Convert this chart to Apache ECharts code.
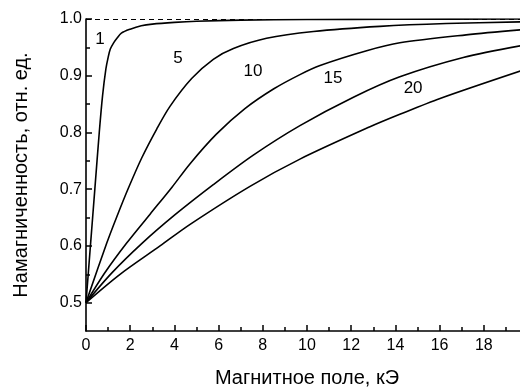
<!DOCTYPE html>
<html lang="ru">
<head>
<meta charset="UTF-8">
<title>Намагниченность</title>
<script src="https://cdn.jsdelivr.net/npm/echarts@6/dist/echarts.min.js"></script>
<style>
  html, body { margin: 0; padding: 0; background: #fff; }
  #main { width: 520px; height: 391px; }
</style>
</head>
<body>
<div id="main"></div>
<script type="text/javascript">
var curveNames = ['1', '5', '10', '15', '20'];

var h1 = [0, 0.2, 0.4, 0.6, 0.75, 0.9, 1.0, 1.1, 1.25, 1.4, 1.6, 2.0, 2.5, 3.0, 4, 5, 7, 10, 14, 19.7];
var m1 = [0.5, 0.6, 0.7, 0.8, 0.865, 0.912, 0.932, 0.947, 0.958, 0.966, 0.975, 0.982, 0.988, 0.991, 0.994, 0.996, 0.998, 0.999, 0.9995, 1.0];

var h5 = [0, 0.94, 1.39, 1.92, 2.52, 3.2, 3.8, 4.78, 5.76, 6.67, 8.17, 10.29, 13.3, 16.3, 19.7];
var m5 = [0.5, 0.605, 0.651, 0.702, 0.755, 0.806, 0.846, 0.895, 0.929, 0.948, 0.966, 0.978, 0.987, 0.992, 0.995];

var h10 = [0, 0.86, 1.84, 2.9, 3.9, 4.71, 5.9, 7.19, 8.5, 9.68, 10.59, 12.7, 14.2, 17.2, 19.7];
var m10 = [0.5, 0.553, 0.605, 0.656, 0.704, 0.745, 0.797, 0.842, 0.877, 0.902, 0.918, 0.944, 0.958, 0.972, 0.981];

var h15 = [0, 1.16, 2.52, 4.03, 5.76, 7.57, 9.68, 12.1, 14.2, 17.07, 19.7];
var m15 = [0.5, 0.552, 0.604, 0.655, 0.708, 0.76, 0.812, 0.862, 0.898, 0.932, 0.953];

var h20 = [0, 1.54, 3.35, 4.71, 7.42, 9.68, 12.85, 14.2, 16.02, 19.7];
var m20 = [0.5, 0.55, 0.6, 0.638, 0.705, 0.753, 0.81, 0.832, 0.86, 0.909];

// подписи кривых (в координатах данных)
var labelH = [0.63, 4.16, 7.56, 11.18, 14.8];
var labelM = [0.965, 0.931, 0.907, 0.896, 0.878];

var xMajorTicks = [0, 2, 4, 6, 8, 10, 12, 14, 16, 18];
var yMajorTicks = [0.5, 0.6, 0.7, 0.8, 0.9, 1.0];
var yMinorTicks = [0.55, 0.65, 0.75, 0.85, 0.95];

var allH = [h1, h5, h10, h15, h20];
var allM = [m1, m5, m10, m15, m20];

function pairs(xs, ys) {
  var arr = [];
  for (var i = 0; i < xs.length; i++) arr.push([xs[i], ys[i]]);
  return arr;
}

var font = "'Liberation Sans', Arial, sans-serif";

var series = [];
for (var k = 0; k < curveNames.length; k++) {
  var s = {
    name: curveNames[k],
    type: 'line',
    data: pairs(allH[k], allM[k]),
    showSymbol: false,
    smooth: 0.3,
    lineStyle: { color: '#000', width: 1.6 },
    z: 3
  };
  if (k === 0) {
    s.markLine = {
      silent: true,
      symbol: 'none',
      label: { show: false },
      lineStyle: { color: '#000', width: 1, type: [5, 4] },
      data: [{ yAxis: 1.0 }]
    };
  }
  series.push(s);
}

// подписи кривых
series.push({
  type: 'scatter',
  data: pairs(labelH, labelM).map(function (p, i) {
    return { value: p, name: curveNames[i] };
  }),
  symbol: 'circle',
  symbolSize: 0,
  itemStyle: { color: '#000' },
  label: {
    show: true,
    position: 'inside',
    formatter: function (p) { return p.name; },
    color: '#000',
    opacity: 1,
    textBorderWidth: 0,
    fontSize: 17,
    fontFamily: font
  },
  silent: true,
  z: 5
});

var myChart = echarts.init(document.getElementById('main'));
var option = {
  animation: false,
  backgroundColor: '#fff',
  grid: { left: 86, right: -8, top: 19, bottom: 60, containLabel: false, outerBoundsMode: 'none' },
  xAxis: {
    type: 'value',
    min: 0,
    max: 20,
    interval: 2,
    name: 'Магнитное поле, кЭ',
    nameLocation: 'middle',
    nameGap: 37,
    nameTextStyle: { color: '#000', fontSize: 20, fontFamily: font },
    axisLine: { lineStyle: { color: '#000', width: 1.6 } },
    axisTick: { inside: true, length: 6, lineStyle: { color: '#000', width: 1.5 } },
    minorTick: { show: true, splitNumber: 2, length: 4, lineStyle: { color: '#000', width: 1.5 } },
    axisLabel: {
      color: '#000', fontSize: 16, fontFamily: font, margin: 7,
      customValues: xMajorTicks
    },
    splitLine: { show: false }
  },
  yAxis: [{
    type: 'value',
    min: 0.45,
    max: 1.0,
    name: 'Намагниченность, отн. ед.',
    nameLocation: 'middle',
    nameGap: 55,
    nameTextStyle: { color: '#000', fontSize: 20, fontFamily: font },
    axisLine: { lineStyle: { color: '#000', width: 1.6 } },
    axisTick: { inside: true, length: 6, customValues: yMajorTicks, lineStyle: { color: '#000', width: 1.5 } },
    axisLabel: {
      color: '#000', fontSize: 16, fontFamily: font, margin: 4,
      customValues: yMajorTicks,
      formatter: function (v) { return v.toFixed(1); }
    },
    splitLine: { show: false }
  }, {
    type: 'value',
    min: 0.45,
    max: 1.0,
    position: 'left',
    axisLine: { show: false },
    axisTick: { inside: true, length: 4, customValues: yMinorTicks, lineStyle: { color: '#000', width: 1.5 } },
    axisLabel: { show: false },
    splitLine: { show: false }
  }],
  series: series
};
myChart.setOption(option);
</script>
</body>
</html>
